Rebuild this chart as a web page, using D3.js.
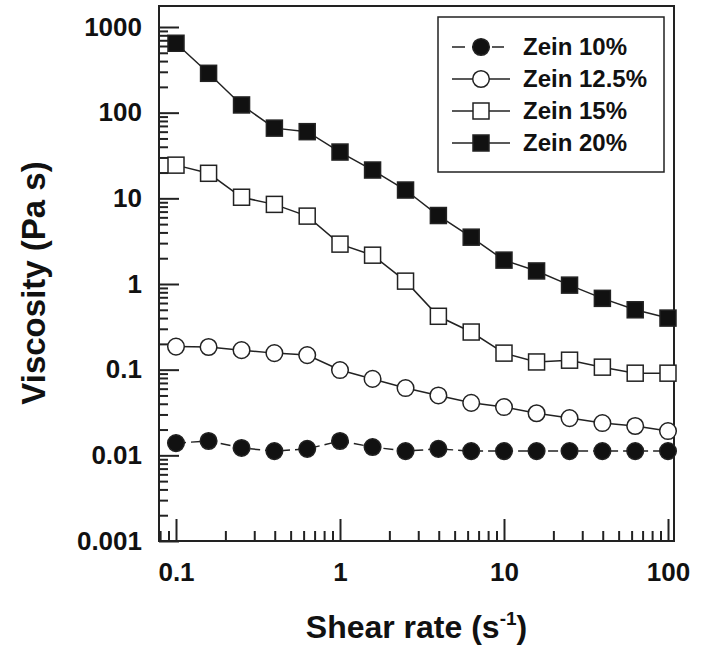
<!DOCTYPE html>
<html>
<head>
<meta charset="utf-8">
<script src="https://cdn.jsdelivr.net/npm/d3@7"></script>
<style>
  body { margin: 0; background: #fff; }
  svg { display: block; }
  text { font-family: "Liberation Sans", Arial, sans-serif; font-weight: bold; fill: #111; }
</style>
</head>
<body>
<div id="chart"></div>
<script>
// Données
const shearRate = [0.1, 0.158, 0.251, 0.398, 0.631, 1, 1.58, 2.51, 3.98, 6.31, 10, 15.8, 25.1, 39.8, 63.1, 100];

const zein10 = [0.0139, 0.0147, 0.0122, 0.0112, 0.0119, 0.0147, 0.0125, 0.0112, 0.0119, 0.0112, 0.0112, 0.0112, 0.0112, 0.0112, 0.0112, 0.0112];
const zein125 = [0.186, 0.184, 0.169, 0.156, 0.148, 0.099, 0.078, 0.061, 0.050, 0.041, 0.0366, 0.031, 0.0272, 0.0238, 0.022, 0.0192];
const zein15 = [24.4, 19.6, 10.3, 8.5, 6.2, 2.92, 2.17, 1.08, 0.42, 0.275, 0.156, 0.123, 0.129, 0.107, 0.091, 0.091];
const zein20 = [646, 288, 123, 66, 60, 34.7, 21.4, 12.5, 6.3, 3.52, 1.9, 1.42, 0.97, 0.68, 0.50, 0.40];

const seriesNames = ["Zein 10%", "Zein 12.5%", "Zein 15%", "Zein 20%"];
const xTickValues = [0.1, 1, 10, 100];
const xTickLabels = ["0.1", "1", "10", "100"];
const yTickValues = [0.001, 0.01, 0.1, 1, 10, 100, 1000];
const yTickLabels = ["0.001", "0.01", "0.1", "1", "10", "100", "1000"];

const series = [
    { name: seriesNames[0], values: zein10, shape: "circle", filled: true, dashed: true },
    { name: seriesNames[1], values: zein125, shape: "circle", filled: false, dashed: false },
    { name: seriesNames[2], values: zein15, shape: "square", filled: false, dashed: false },
    { name: seriesNames[3], values: zein20, shape: "square", filled: true, dashed: false }
];

const W = 705, H = 652;
const frame = { left: 159, right: 674, top: 6, bottom: 541 };

const svg = d3.select("#chart").append("svg")
    .attr("width", W)
    .attr("height", H);

const x = d3.scaleLog().domain([0.1, 100]).range([176, 668]);
const y = d3.scaleLog().domain([0.001, 1000]).range([541, 27]);

// ticks mineurs (2..9 de chaque décade)
function minorTicks(lo, hi, scale, pxLo, pxHi) {
    const out = [];
    for (let e = lo; e <= hi; e++) {
        for (let m = 2; m <= 9; m++) {
            const v = m * Math.pow(10, e);
            const p = scale(v);
            if (p >= pxLo && p <= pxHi) out.push(v);
        }
    }
    return out;
}

const xMinor = minorTicks(-2, 2, x, frame.left + 1, frame.right - 1);
const yMinor = minorTicks(-3, 3, y, frame.top + 1, frame.bottom - 1);

function styleAxis(g, size) {
    g.attr("font-family", null).attr("font-size", size).attr("color", "#222");
    g.select(".domain").remove();
    g.selectAll(".tick line").attr("stroke-width", 2);
}

// axe X
svg.append("g")
    .attr("transform", `translate(0,${frame.bottom})`)
    .call(d3.axisBottom(x).tickValues(xMinor).tickSize(-10).tickFormat(""))
    .call(g => styleAxis(g, 26));

svg.append("g")
    .attr("transform", `translate(0,${frame.bottom})`)
    .call(d3.axisBottom(x).tickValues(xTickValues).tickSize(-22).tickPadding(22)
        .tickFormat((d, i) => xTickLabels[i]))
    .call(g => styleAxis(g, 26));

// axe Y
svg.append("g")
    .attr("transform", `translate(${frame.left},0)`)
    .call(d3.axisLeft(y).tickValues(yMinor).tickSize(-9).tickFormat(""))
    .call(g => styleAxis(g, 26));

svg.append("g")
    .attr("transform", `translate(${frame.left},0)`)
    .call(d3.axisLeft(y).tickValues(yTickValues).tickSize(-20).tickPadding(17)
        .tickFormat((d, i) => yTickLabels[i]))
    .call(g => styleAxis(g, 26));

// cadre
svg.append("rect")
    .attr("x", frame.left)
    .attr("y", frame.top)
    .attr("width", frame.right - frame.left)
    .attr("height", frame.bottom - frame.top)
    .attr("fill", "none")
    .attr("stroke", "#222")
    .attr("stroke-width", 2);

// titres
const xt = svg.append("text")
    .attr("x", (frame.left + frame.right) / 2)
    .attr("y", 638)
    .attr("text-anchor", "middle")
    .attr("font-size", 32);
xt.append("tspan").text("Shear rate (s");
xt.append("tspan").attr("font-size", 19).attr("dy", -13).text("-1");
xt.append("tspan").attr("dy", 13).text(")");

svg.append("text")
    .attr("transform", "translate(45,283) rotate(-90)")
    .attr("text-anchor", "middle")
    .attr("font-size", 33)
    .text("Viscosity (Pa s)");

// marqueurs
function drawMarker(g, s, cx, cy) {
    const fill = s.filled ? "#111" : "#fff";
    if (s.shape === "circle") {
        g.append("circle")
            .attr("cx", cx).attr("cy", cy).attr("r", 8.3)
            .attr("fill", fill).attr("stroke", "#222").attr("stroke-width", 1.5);
    } else {
        g.append("rect")
            .attr("x", cx - 8).attr("y", cy - 8).attr("width", 16).attr("height", 16)
            .attr("fill", fill).attr("stroke", "#222").attr("stroke-width", 1.5);
    }
}

const line = d3.line()
    .x((d, i) => x(shearRate[i]))
    .y(d => y(d));

series.forEach(s => {
    const g = svg.append("g");
    g.append("path")
        .attr("d", line(s.values))
        .attr("fill", "none")
        .attr("stroke", "#222")
        .attr("stroke-width", 1.5)
        .attr("stroke-dasharray", s.dashed ? "10,5" : null);
    s.values.forEach((v, i) => drawMarker(g, s, x(shearRate[i]), y(v)));
});

// légende
const leg = svg.append("g");
leg.append("rect")
    .attr("x", 438).attr("y", 17)
    .attr("width", 226).attr("height", 155)
    .attr("fill", "#fff")
    .attr("stroke", "#222")
    .attr("stroke-width", 1.5);

series.forEach((s, i) => {
    const cy = 47 + i * 32;
    leg.append("line")
        .attr("x1", 452).attr("x2", s.dashed ? 504 : 510)
        .attr("y1", cy).attr("y2", cy)
        .attr("stroke", "#222")
        .attr("stroke-width", 1.5)
        .attr("stroke-dasharray", s.dashed ? "13,7" : null);
    drawMarker(leg, s, 481, cy);
    leg.append("text")
        .attr("x", 523).attr("y", cy)
        .attr("dy", "0.35em")
        .attr("font-size", 24)
        .text(s.name);
});
</script>
</body>
</html>
